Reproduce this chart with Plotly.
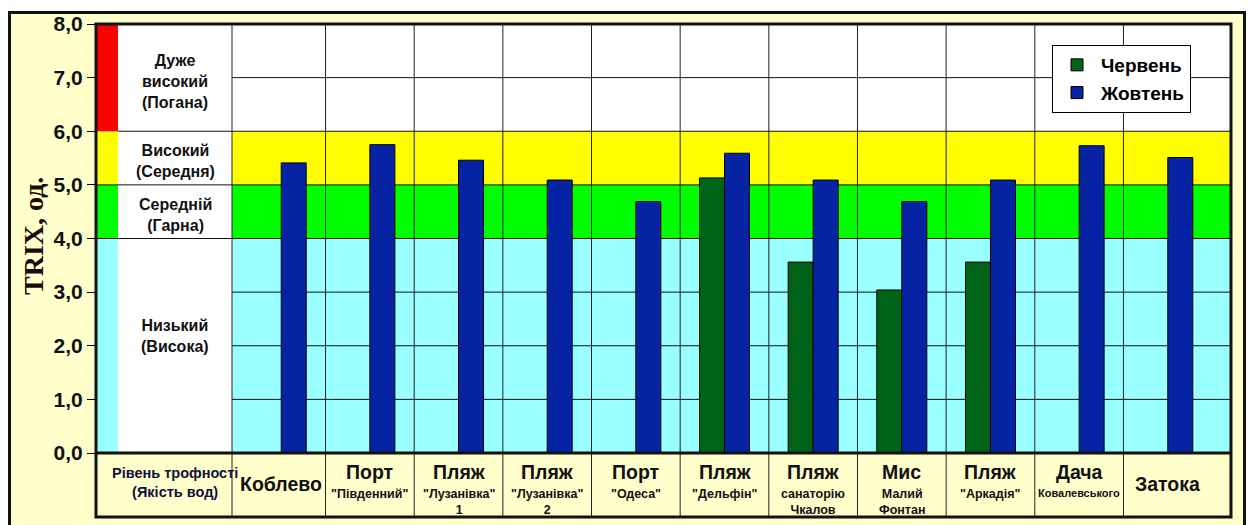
import plotly.graph_objects as go

# ---- data -------------------------------------------------------------
site_main = ["Коблево", "Порт", "Пляж", "Пляж", "Порт", "Пляж",
             "Пляж", "Мис", "Пляж", "Дача", "Затока"]
site_sub = ["", "\"Південний\"", "\"Лузанівка\"<br>1", "\"Лузанівка\"<br>2",
            "\"Одеса\"", "\"Дельфін\"", "санаторію<br>Чкалов", "Малий<br>Фонтан",
            "\"Аркадія\"", "Ковалевського", ""]
trix_june = [None, None, None, None, None, 5.13, 3.56, 3.04, 3.56, None, None]
trix_october = [5.41, 5.75, 5.46, 5.09, 4.69, 5.59, 5.09, 4.69, 5.09, 5.73, 5.51]
series_names = ["Червень", "Жовтень"]

# trophic zones: (lower, upper, colour, label)
zones = [
    (0, 4, "#99FFFF", "Низький<br>(Висока)"),
    (4, 5, "#00FF00", "Середній<br>(Гарна)"),
    (5, 6, "#FFFF00", "Високий<br>(Середня)"),
    (6, 8, "#FF0000", "Дуже<br>високий<br>(Погана)"),
]
y_ticks = [0, 1, 2, 3, 4, 5, 6, 7, 8]

# ---- page geometry (pixels) -------------------------------------------
W, H = 1248, 525
L, R, T, B = 96, 1231, 24, 453          # plot area
TABLE_BOTTOM = 517
STRIPE_RIGHT = 118                       # coloured stripe of the legend column
LABEL_RIGHT = 232                        # end of the legend column
X0, X1 = -2.089, 10.713                  # x-axis range (category units)

FONT = "Liberation Sans, Arial, sans-serif"
INK = "#111111"


def px_x(px):
    return (px - L) / (R - L)


def px_y(py):
    return (B - py) / (B - T)


def x_of_px(px):
    return X0 + (px - L) / (R - L) * (X1 - X0)


def paper_of_x(v):
    return (v - X0) / (X1 - X0)


x_stripe = x_of_px(STRIPE_RIGHT)
x_label = x_of_px(LABEL_RIGHT)
positions = list(range(len(site_main)))
dividers = [p + 0.5 for p in positions[:-1]]

fig = go.Figure()
fig.add_trace(go.Bar(x=positions, y=trix_june, name=series_names[0],
                     marker=dict(color="#006418", line=dict(color="black", width=1))))
fig.add_trace(go.Bar(x=positions, y=trix_october, name=series_names[1],
                     marker=dict(color="#0523A3", line=dict(color="black", width=1))))

shapes = []
# outer light-yellow frame
shapes.append(dict(type="rect", xref="paper", yref="paper", layer="below",
                   x0=px_x(9.5), x1=px_x(1244.5), y0=px_y(560), y1=px_y(12.5),
                   fillcolor="#FFFFCC", line=dict(color="#111111", width=3)))

# coloured zone bands
for lo, hi, col, _ in zones:
    data_col = "#FFFFFF" if lo >= 6 else col
    shapes.append(dict(type="rect", xref="x", yref="y", layer="below",
                       x0=x_label, x1=X1, y0=lo, y1=hi,
                       fillcolor=data_col, line=dict(width=0)))
    shapes.append(dict(type="rect", xref="x", yref="y", layer="below",
                       x0=X0, x1=x_stripe, y0=lo, y1=hi,
                       fillcolor=col, line=dict(width=0)))
shapes.append(dict(type="rect", xref="x", yref="y", layer="below",
                   x0=x_stripe, x1=x_label, y0=0, y1=8,
                   fillcolor="#FFFFFF", line=dict(width=0)))

# horizontal grid lines
for yv in y_ticks[1:-1]:
    if yv in (4, 5):
        xs = X0
    elif yv == 6:
        xs = x_stripe
    else:
        xs = x_label
    shapes.append(dict(type="line", xref="x", yref="y", layer="below",
                       x0=xs, x1=X1, y0=yv, y1=yv,
                       line=dict(color="#111111", width=1)))

# vertical column lines, plot area and table
for xv in [x_label] + dividers:
    shapes.append(dict(type="line", xref="x", yref="y", layer="below",
                       x0=xv, x1=xv, y0=0, y1=8,
                       line=dict(color="#222222", width=1)))
    shapes.append(dict(type="line", xref="paper", yref="paper", layer="above",
                       x0=paper_of_x(xv), x1=paper_of_x(xv),
                       y0=px_y(TABLE_BOTTOM), y1=0,
                       line=dict(color="#222222", width=1)))

# thick borders of plot + table
shapes.append(dict(type="rect", xref="paper", yref="paper", layer="above",
                   x0=0, x1=1, y0=px_y(TABLE_BOTTOM), y1=1,
                   line=dict(color="#111111", width=3)))
shapes.append(dict(type="line", xref="paper", yref="paper", layer="above",
                   x0=0, x1=1, y0=0, y1=0,
                   line=dict(color="#111111", width=3)))

annotations = []
# zone labels in the legend column
zone_label_py = {0: 335.5, 4: 214.5, 5: 160.5, 6: 81}
for lo, hi, col, text in zones:
    annotations.append(dict(xref="paper", yref="paper",
                            x=px_x(175), y=px_y(zone_label_py[lo]),
                            text=text, showarrow=False,
                            xanchor="center", yanchor="middle",
                            font=dict(family=FONT, size=16, color=INK, weight="bold")))

annotations.append(dict(xref="paper", yref="paper", x=px_x(175), y=px_y(482),
                        text="Рівень трофності<br>(Якість вод)", showarrow=False,
                        xanchor="center", yanchor="middle",
                        font=dict(family=FONT, size=14.5, color="#101040", weight="bold")))

# site names in the table row
for p, main, sub in zip(positions, site_main, site_sub):
    if sub:
        annotations.append(dict(xref="x", yref="paper", x=p, y=px_y(472),
                                text=main, showarrow=False,
                                xanchor="center", yanchor="middle",
                                font=dict(family=FONT, size=19.5, color=INK, weight="bold")))
        annotations.append(dict(xref="x", yref="paper", x=p, y=px_y(485),
                                text=sub, showarrow=False,
                                xanchor="center", yanchor="top",
                                font=dict(family=FONT,
                                          size=11 if len(sub) > 12 and "<br>" not in sub else 12.5,
                                          color=INK, weight="bold")))
    else:
        annotations.append(dict(xref="x", yref="paper", x=p, y=px_y(484),
                                text=main, showarrow=False,
                                xanchor="center", yanchor="middle",
                                font=dict(family=FONT, size=19.5, color=INK, weight="bold")))

# y-axis title
annotations.append(dict(xref="paper", yref="paper", x=px_x(33), y=px_y(236),
                        text="TRIX, од.", textangle=-90, showarrow=False,
                        xanchor="center", yanchor="middle",
                        font=dict(family="Liberation Serif, Times New Roman, serif",
                                  size=28, color="#1a0a0a", weight="bold")))

fig.update_layout(
    width=W, height=H,
    margin=dict(l=L, r=W - R, t=T, b=H - B, autoexpand=False),
    paper_bgcolor="white",
    plot_bgcolor="#FFFFCC",
    separators=", ",
    barmode="group",
    bargap=0.436,
    bargroupgap=0,
    shapes=shapes,
    annotations=annotations,
    showlegend=True,
    legend=dict(x=px_x(1052), y=px_y(45), xanchor="left", yanchor="top",
                bgcolor="white", bordercolor="black", borderwidth=1,
                itemwidth=38,
                font=dict(family=FONT, size=19, color="black", weight="bold"),
                itemclick=False, itemdoubleclick=False),
    xaxis=dict(range=[X0, X1], visible=False, fixedrange=True),
    yaxis=dict(range=[0, 8], tickvals=y_ticks, tickformat=".1f",
               ticks="outside", ticklen=8, tickwidth=1, tickcolor="black",
               showgrid=False, zeroline=False, showline=False, fixedrange=True,
               tickfont=dict(family=FONT, size=21, color=INK, weight="bold")),
)

fig.write_html("out.html")
